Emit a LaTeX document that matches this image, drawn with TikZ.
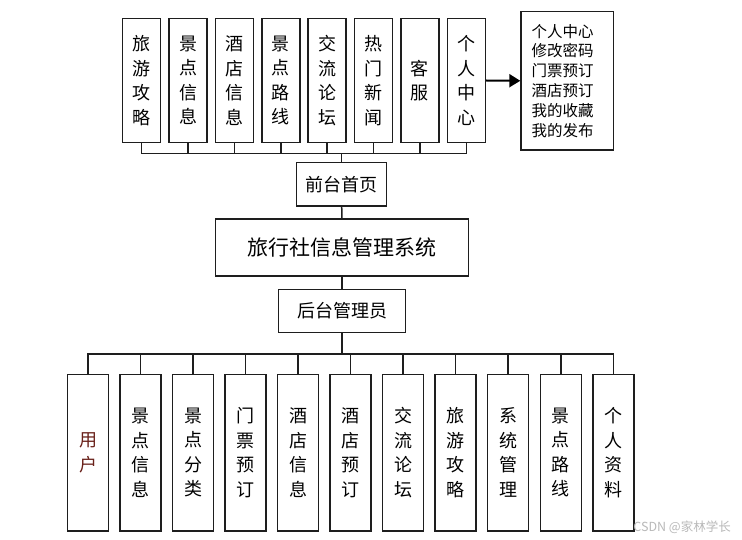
\documentclass[tikz,border=0pt]{standalone}
\usepackage{fontspec}
\newfontfamily\cjk{Noto Sans CJK SC}
\usetikzlibrary{arrows.meta}
\definecolor{ln}{RGB}{30,30,30}
\definecolor{usr}{RGB}{105,32,25}
\definecolor{wm}{RGB}{185,185,185}
\begin{document}
\begin{tikzpicture}[x=1pt,y=-1pt,
  boxbase/.style={draw=ln,line width=1.5pt,fill=white,inner sep=0pt,align=center},
  tbox/.style={boxbase,minimum width=38pt,minimum height=124.4pt,font=\cjk\fontsize{18}{24.5}\selectfont},
  bbox/.style={boxbase,minimum width=41pt,minimum height=156.7pt,font=\cjk\fontsize{18}{24.5}\selectfont},
  midbox/.style={boxbase,minimum height=43.2pt,font=\cjk\fontsize{18}{22}\selectfont},
  conn/.style={draw=ln,line width=1.5pt},
]
\fill[white] (0,0) rectangle (742,540);
\useasboundingbox (0,0) rectangle (742,540);

% top row
\node[tbox] (t1) at (141.7,80.5) {旅\\游\\攻\\略};
\node[tbox] (t2) at (188.07,80.5) {景\\点\\信\\息};
\node[tbox] (t3) at (234.44,80.5) {酒\\店\\信\\息};
\node[tbox] (t4) at (280.81,80.5) {景\\点\\路\\线};
\node[tbox] (t5) at (327.18,80.5) {交\\流\\论\\坛};
\node[tbox] (t6) at (373.55,80.5) {热\\门\\新\\闻};
\node[tbox] (t7) at (419.92,80.5) {客\\服};
\node[tbox] (t8) at (466.3,80.5) {个\\人\\中\\心};

\node[boxbase,minimum width=92.3pt,minimum height=138.5pt,text width=71.3pt,align=left,
      font=\cjk\fontsize{15.5}{19.8}\selectfont] (lst) at (567.2,80.8)
  {个人中心\\修改密码\\门票预订\\酒店预订\\我的收藏\\我的发布};

\draw[black,line width=2pt,-{Triangle[length=11pt,width=13pt]}] (t8.east) -- (lst.west);

% middle
\node[midbox,minimum width=90pt] (fp) at (341.7,184.2) {前台首页};
\node[boxbase,minimum width=252.6pt,minimum height=56.7pt,font=\cjk\fontsize{21}{24}\selectfont] (sys) at (342,247.6) {旅行社信息管理系统};
\node[midbox,minimum width=127.4pt] (hm) at (342,311) {后台管理员};

\coordinate (tb) at (341.7,153.3);
\foreach \n in {t1,t2,t3,t4,t5,t6,t7,t8} \draw[conn] (\n.south) |- (tb);
\draw[conn] (tb) -- (fp.north);
\draw[conn] (fp.south) -- (sys.north);
\draw[conn] (sys.south) -- (hm.north);

% bottom row
\node[bbox,text=usr] (b1) at (88,452.65) {用\\户};
\node[bbox] (b2) at (140.53,452.65) {景\\点\\信\\息};
\node[bbox] (b3) at (193.06,452.65) {景\\点\\分\\类};
\node[bbox] (b4) at (245.59,452.65) {门\\票\\预\\订};
\node[bbox] (b5) at (298.12,452.65) {酒\\店\\信\\息};
\node[bbox] (b6) at (350.65,452.65) {酒\\店\\预\\订};
\node[bbox] (b7) at (403.18,452.65) {交\\流\\论\\坛};
\node[bbox] (b8) at (455.71,452.65) {旅\\游\\攻\\略};
\node[bbox] (b9) at (508.24,452.65) {系\\统\\管\\理};
\node[bbox] (b10) at (560.77,452.65) {景\\点\\路\\线};
\node[bbox] (b11) at (613.3,452.65) {个\\人\\资\\料};

\coordinate (bb) at (342,354);
\draw[conn] (hm.south) -- (bb);
\foreach \n in {b1,b2,b3,b4,b5,b6,b7,b8,b9,b10,b11} \draw[conn] (bb) -| (\n.north);

\node[anchor=east,text=wm,inner sep=0pt,font=\cjk\fontsize{12.5}{14}\selectfont] (wmk) at (731,527) {CSDN @家林学长};
\end{tikzpicture}
\end{document}
